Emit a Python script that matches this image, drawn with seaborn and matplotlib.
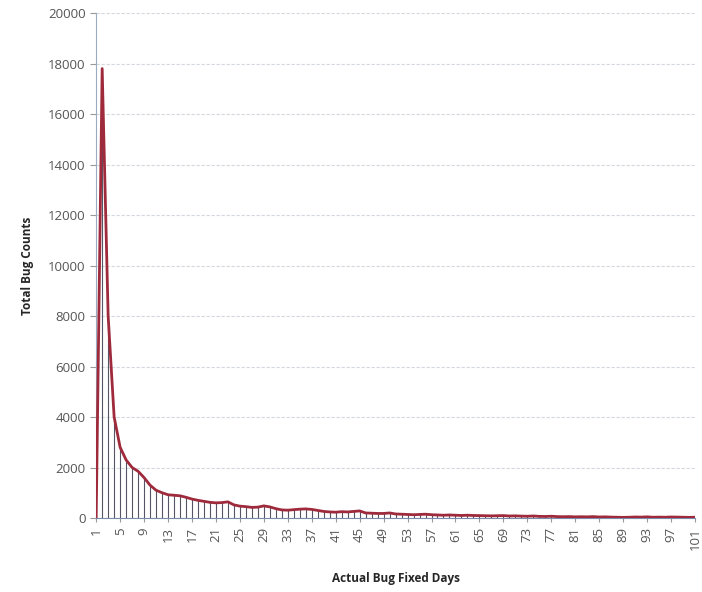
import matplotlib
matplotlib.use("Agg")
import matplotlib.pyplot as plt
import seaborn as sns
import pandas as pd

# 数据：修复天数 -> 缺陷数量
days = list(range(1, 102))
counts = [
    0, 17800, 8000, 4000, 2800, 2300, 2000, 1850, 1600, 1300,
    1100, 1000, 920, 900, 880, 820, 750, 700, 660, 620,
    600, 610, 640, 520, 470, 450, 420, 430, 480, 440,
    370, 320, 310, 330, 350, 360, 340, 300, 260, 240,
    230, 250, 240, 260, 280, 200, 190, 180, 180, 200,
    160, 150, 140, 130, 140, 150, 130, 120, 110, 120,
    110, 100, 110, 100, 95, 90, 85, 90, 95, 80,
    85, 75, 70, 80, 65, 60, 70, 55, 50, 55,
    45, 50, 45, 55, 40, 45, 35, 30, 25, 30,
    40, 35, 45, 30, 35, 30, 40, 35, 30, 25,
    30,
]
tick_days = list(range(1, 102, 4))

df = pd.DataFrame({'days': days, 'counts': counts})

sns.set_style('white')
plt.rcParams['font.family'] = ['Open Sans', 'DejaVu Sans']

fig = plt.figure(figsize=(7.02, 5.92), dpi=100)
ax = fig.add_axes([0.137, 0.125, 0.853, 0.853])

# 垂直线
ax.vlines(df['days'], 0, df['counts'], color='#555566', linewidth=0.8, zorder=2)
sns.lineplot(x='days', y='counts', data=df, color='#9e2a3c', linewidth=2, ax=ax, zorder=3)

ax.set_xlim(1, 101)
ax.set_ylim(0, 20000)
ax.set_yticks(range(0, 20001, 2000))
ax.set_xticks(tick_days)
ax.set_xticklabels([str(d) for d in tick_days], rotation=90, fontsize=9.5, color='#555555')
ax.tick_params(axis='y', labelsize=9.5, labelcolor='#555555', length=4, color='#999999', left=True)
ax.tick_params(axis='x', length=3, color='#999999', bottom=True)

ax.yaxis.grid(True, color='#d4d8de', linestyle=(0, (3, 1.5)), linewidth=0.8)
ax.set_axisbelow(True)
for s in ['top', 'right']:
    ax.spines[s].set_visible(False)
ax.spines['left'].set_color('#9aaac0')
ax.spines['bottom'].set_color('#7a8aa8')

ax.set_xlabel('Actual Bug Fixed Days', fontsize=8.5, fontweight='bold', labelpad=16)
ax.set_ylabel('Total Bug Counts', fontsize=8.5, fontweight='bold', labelpad=10)

fig.savefig('out.png', dpi=100)
